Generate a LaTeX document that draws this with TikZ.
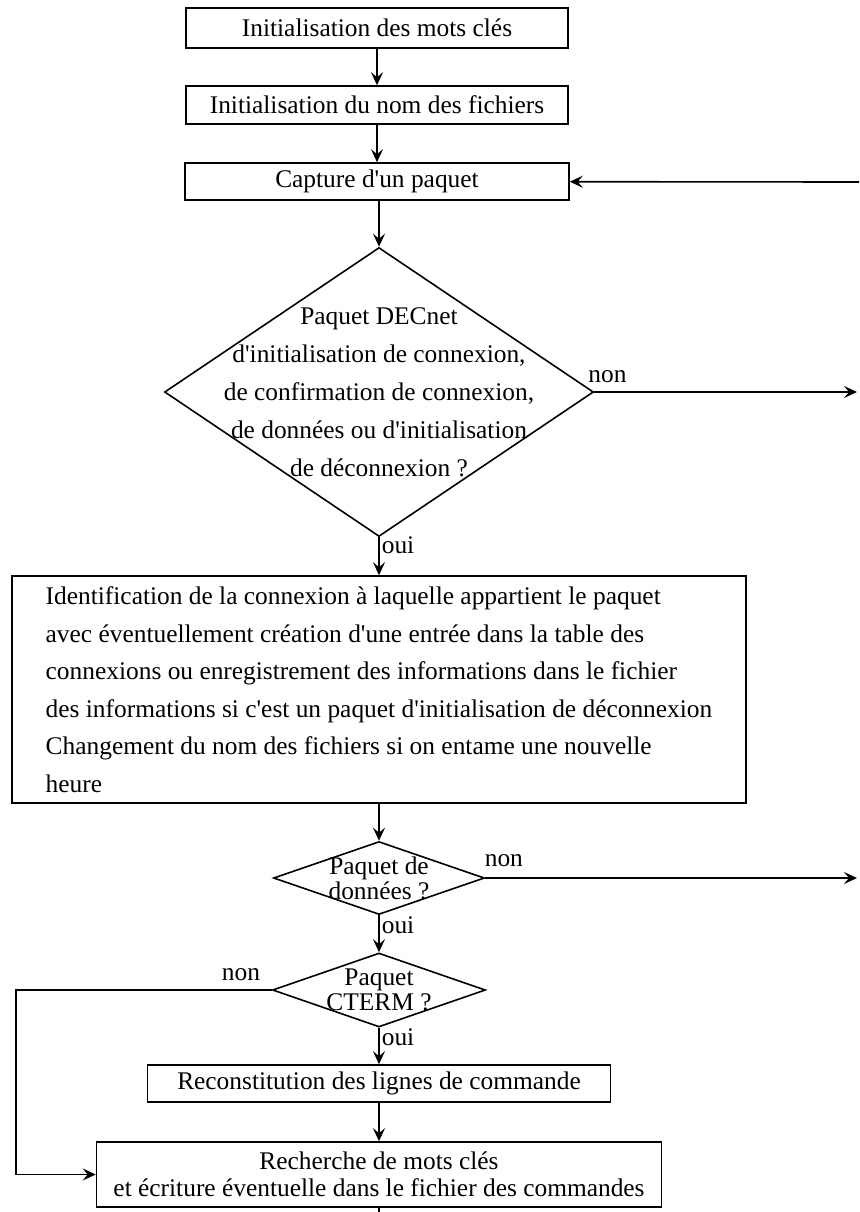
\documentclass[tikz,border=0pt]{standalone}
\usepackage{fontspec}
\setmainfont{Liberation Serif}[Ligatures=TeXOff]
\usetikzlibrary{shapes.geometric,arrows.meta}

\begin{document}
\begin{tikzpicture}[x=0.5pt, y=-0.5pt, line width=0.8pt,
    font=\fontsize{12.7}{19}\selectfont,
    >={Stealth[length=6.5pt, width=6pt, inset=2.5pt]},
    box/.style={shape=rectangle, draw, inner sep=0pt, align=center},
    decision/.style={shape=diamond, draw, inner sep=0pt},
    tight/.style={font=\fontsize{12.7}{12.5}\selectfont}]

    \useasboundingbox (0,0) rectangle (859,1212);

    \node[box, minimum width=191pt, minimum height=20pt] (Keys) at (377,28) {Initialisation des mots clés};

    \node[box, minimum width=191pt, minimum height=19pt] (Names) at (377,105) {Initialisation du nom des fichiers};

    \node[box, minimum width=192pt, minimum height=18.5pt] (Capture) at (377,181.5) {Capture d'un paquet};


    \node[decision, minimum width=214.5pt, minimum height=144.5pt,
        label={[align=center]center:
        Paquet DECnet \\
        d'initialisation de connexion, \\
        de confirmation de connexion, \\
        de données ou d'initialisation \\
        de déconnexion ?}] (Dec) at (379,392) {};

    \node[box, align=left, minimum width=367pt, minimum height=113.5pt,
        font=\fontsize{12.7}{18.75}\selectfont] (Ident) at (379,689.5) {
        Identification de la connexion à laquelle appartient le paquet \\
        avec éventuellement création d'une entrée dans la table des \\
        connexions ou enregistrement des informations dans le fichier \\
        des informations si c'est un paquet d'initialisation de déconnexion \\
        Changement du nom des fichiers si on entame une nouvelle \\
        heure
    };


    \node[decision, minimum width=105.5pt, minimum height=36.5pt,
        label={[align=center, tight]center:Paquet de \\ données ?}] (Data) at (379,878) {};

    \node[decision, minimum width=106.5pt, minimum height=37pt,
        label={[align=center, tight]center:Paquet \\ CTERM ?}] (Cterm) at (379,990) {};

    \node[box, minimum width=231.5pt, minimum height=18.5pt] (Rebuild) at (379,1083.5) {Reconstitution des lignes de commande};

    \node[box, minimum width=282.5pt, minimum height=32.5pt,
        font=\fontsize{12.7}{13.5}\selectfont] (Search) at (379,1174.5) {
        Recherche de mots clés \\
        et écriture éventuelle dans le fichier des commandes
    };

    % free ends at the page edge
    \coordinate (BackIn) at (859,182);
    \coordinate (DecOut) at (857,392);
    \coordinate (DataOut) at (857,878);
    \coordinate (LoopL) at (16,990);
    \coordinate (End) at (379,1212);


    \path [->] (Keys) edge (Names);
    \path [->] (Names) edge (Capture);
    \path [->] (BackIn) edge (Capture);
    \path [->] (Capture.south -| Dec.north) edge (Dec.north);
    \path [->] (Dec) edge node[pos=0.05, above, yshift=1pt] {non} (DecOut);
    \path [->] (Dec) edge node[pos=0.22, right, inner sep=1pt] {oui} (Ident);
    \path [->] (Ident) edge (Data);
    \path [->] (Data) edge node[pos=0.05, above, yshift=2pt] {non} (DataOut);
    \path [->] (Data) edge node[pos=0.27, right, inner sep=1pt] {oui} (Cterm);
    \path [->] (Cterm) edge node[pos=0.26, right, inner sep=1pt] {oui} (Rebuild);
    \draw [->] (Cterm.west) -- node[pos=0.12, above, yshift=1pt] {non} (LoopL) |- (Search.west);
    \path [->] (Rebuild) edge (Search);
    \path [-] (Search) edge (End);

\end{tikzpicture}
\end{document}
